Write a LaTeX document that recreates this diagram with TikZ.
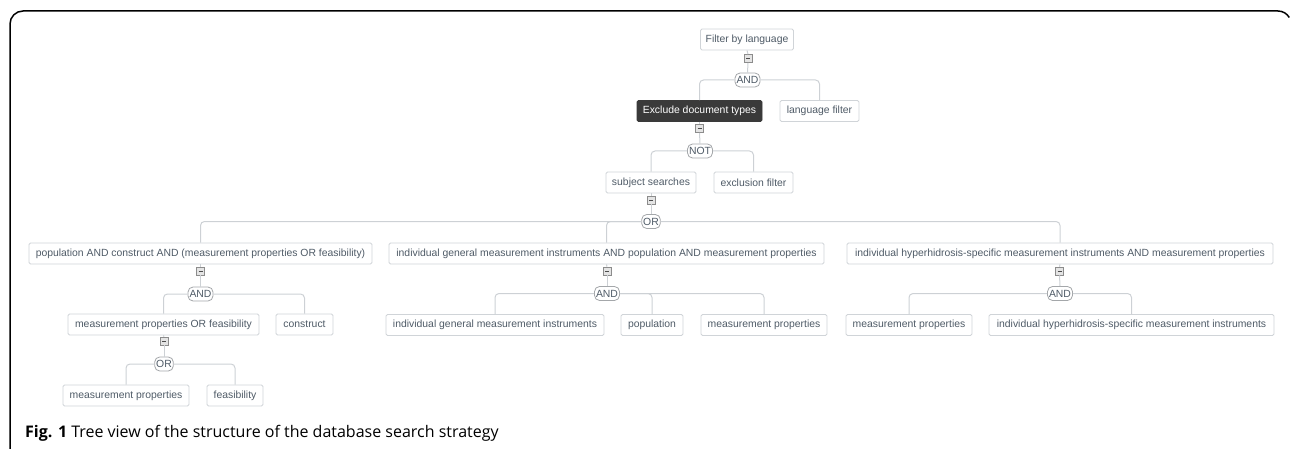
\documentclass[tikz,border=0pt]{standalone}
\usepackage{fontspec}
\setmainfont{Liberation Sans}
\newfontfamily\capfont{Open Sans}
\definecolor{boxline}{HTML}{D0D4D8}
\definecolor{txt}{HTML}{4F5B67}
\definecolor{conn}{HTML}{CDD1D5}
\definecolor{darkbox}{HTML}{3A3A3A}
\definecolor{btnfill}{HTML}{E4E4E4}
\definecolor{btnline}{HTML}{8C8C8C}
\tikzset{
  leaf/.style={draw=boxline, line width=0.8pt, rounded corners=1.5pt, fill=white, text=txt,
    font=\fontsize{10.4}{12}\selectfont, minimum height=21pt, inner xsep=0pt, inner ysep=0pt, anchor=center},
  darkleaf/.style={leaf, fill=darkbox, draw=darkbox, text=white},
  op/.style={draw=conn!80!black, line width=0.8pt, rounded corners=5pt, fill=white, text=txt,
    font=\fontsize{10.4}{12}\selectfont, inner xsep=1.5pt, inner ysep=1.5pt, minimum height=14pt},
  btn/.style={draw=btnline, fill=btnfill, line width=0.6pt, minimum size=8pt, inner sep=0pt,
    path picture={\draw[line width=1pt, black!70] ([xshift=-2pt]path picture bounding box.center) -- ([xshift=2pt]path picture bounding box.center);}},
  link/.style={draw=conn, line width=1pt, rounded corners=4pt},
  frame/.style={draw=black, line width=1.5pt},
}
\begin{document}
\begin{tikzpicture}[x=1pt,y=-1pt]
\useasboundingbox (0,0) rectangle (1292,449);
% frame
\draw[frame] (10,449) -- (10,24) arc[start angle=180, end angle=270, radius=13] -- (1278,11) arc[start angle=270, end angle=330, radius=13];
% level 0
\node[leaf, minimum width=93pt] (flang) at (747,39.5) {Filter by language};
\node[btn] (m0) at (748,58.5) {};
\node[op] (and0) at (747.5,80) {AND};
\node[darkleaf, minimum width=125pt] (excl) at (699.5,111) {Exclude document types};
\node[leaf, minimum width=79pt] (lfilt) at (819.5,111) {language filter};
% level 1
\node[btn] (m1) at (699.5,128.5) {};
\node[op] (not1) at (700,151) {NOT};
\node[leaf, minimum width=90pt] (subj) at (651,182.5) {subject searches};
\node[leaf, minimum width=79pt] (exf) at (753.5,182.5) {exclusion filter};
% level 2
\node[btn] (m2) at (651,200) {};
\node[op] (or2) at (651,221.5) {OR};
\node[leaf, minimum width=343pt] (pa) at (200.5,253.5) {population AND construct AND (measurement properties OR feasibility)};
\node[leaf, minimum width=435pt] (pb) at (606.5,253.5) {individual general measurement instruments AND population AND measurement properties};
\node[leaf, minimum width=426pt] (pc) at (1060,253.5) {individual hyperhidrosis-specific measurement instruments AND measurement properties};
% branch A
\node[btn] (ma) at (200.5,271) {};
\node[op] (anda) at (200.5,294) {AND};
\node[leaf, minimum width=191pt] (mpof) at (163.5,324.5) {measurement properties OR feasibility};
\node[leaf, minimum width=57pt] (cons) at (304.5,324.5) {construct};
\node[btn] (mb) at (164,341) {};
\node[op] (ora) at (164,364) {OR};
\node[leaf, minimum width=126pt] (mp1) at (126,395.5) {measurement properties};
\node[leaf, minimum width=56pt] (feas) at (235,395.5) {feasibility};
% branch B
\node[btn] (mc) at (607,271) {};
\node[op] (andb) at (607,293.5) {AND};
\node[leaf, minimum width=218pt] (igmi) at (495,325) {individual general measurement instruments};
\node[leaf, minimum width=62pt] (pop) at (652,325) {population};
\node[leaf, minimum width=126pt] (mp2) at (764,325) {measurement properties};
% branch C
\node[btn] (md) at (1059.5,271) {};
\node[op] (andc) at (1060,293.5) {AND};
\node[leaf, minimum width=126pt] (mp3) at (909,325) {measurement properties};
\node[leaf, minimum width=285pt] (ihmi) at (1131.5,325) {individual hyperhidrosis-specific measurement instruments};
% connectors
\draw[link] (flang.south) -- (m0.north);
\draw[link] (m0.south) -- (and0.north);
\draw[link] (and0.west) -| (excl.north);
\draw[link] (and0.east) -| (lfilt.north);
\draw[link] (excl.south) -- (m1.north);
\draw[link] (m1.south) -- (not1.north);
\draw[link] (not1.west) -| (subj.north);
\draw[link] (not1.east) -| (exf.north);
\draw[link] (subj.south) -- (m2.north);
\draw[link] (m2.south) -- (or2.north);
\draw[link] (or2.west) -| (pa.north);
\draw[link] (or2.west) -| (pb.north);
\draw[link] (or2.east) -| (pc.north);
\draw[link] (pa.south) -- (ma.north);
\draw[link] (ma.south) -- (anda.north);
\draw[link] (anda.west) -| (mpof.north);
\draw[link] (anda.east) -| (cons.north);
\draw[link] (mpof.south) -- (mb.north);
\draw[link] (mb.south) -- (ora.north);
\draw[link] (ora.west) -| (mp1.north);
\draw[link] (ora.east) -| (feas.north);
\draw[link] (pb.south) -- (mc.north);
\draw[link] (mc.south) -- (andb.north);
\draw[link] (andb.west) -| (igmi.north);
\draw[link] (andb.east) -| (pop.north);
\draw[link] (andb.east) -| (mp2.north);
\draw[link] (pc.south) -- (md.north);
\draw[link] (md.south) -- (andc.north);
\draw[link] (andc.west) -| (mp3.north);
\draw[link] (andc.east) -| (ihmi.north);
% caption
\node[anchor=base west, inner sep=0pt, font=\capfont\fontsize{16}{18}\selectfont] (cap) at (25,437) {\textbf{Fig. 1} Tree view of the structure of the database search strategy};
\end{tikzpicture}
\end{document}
